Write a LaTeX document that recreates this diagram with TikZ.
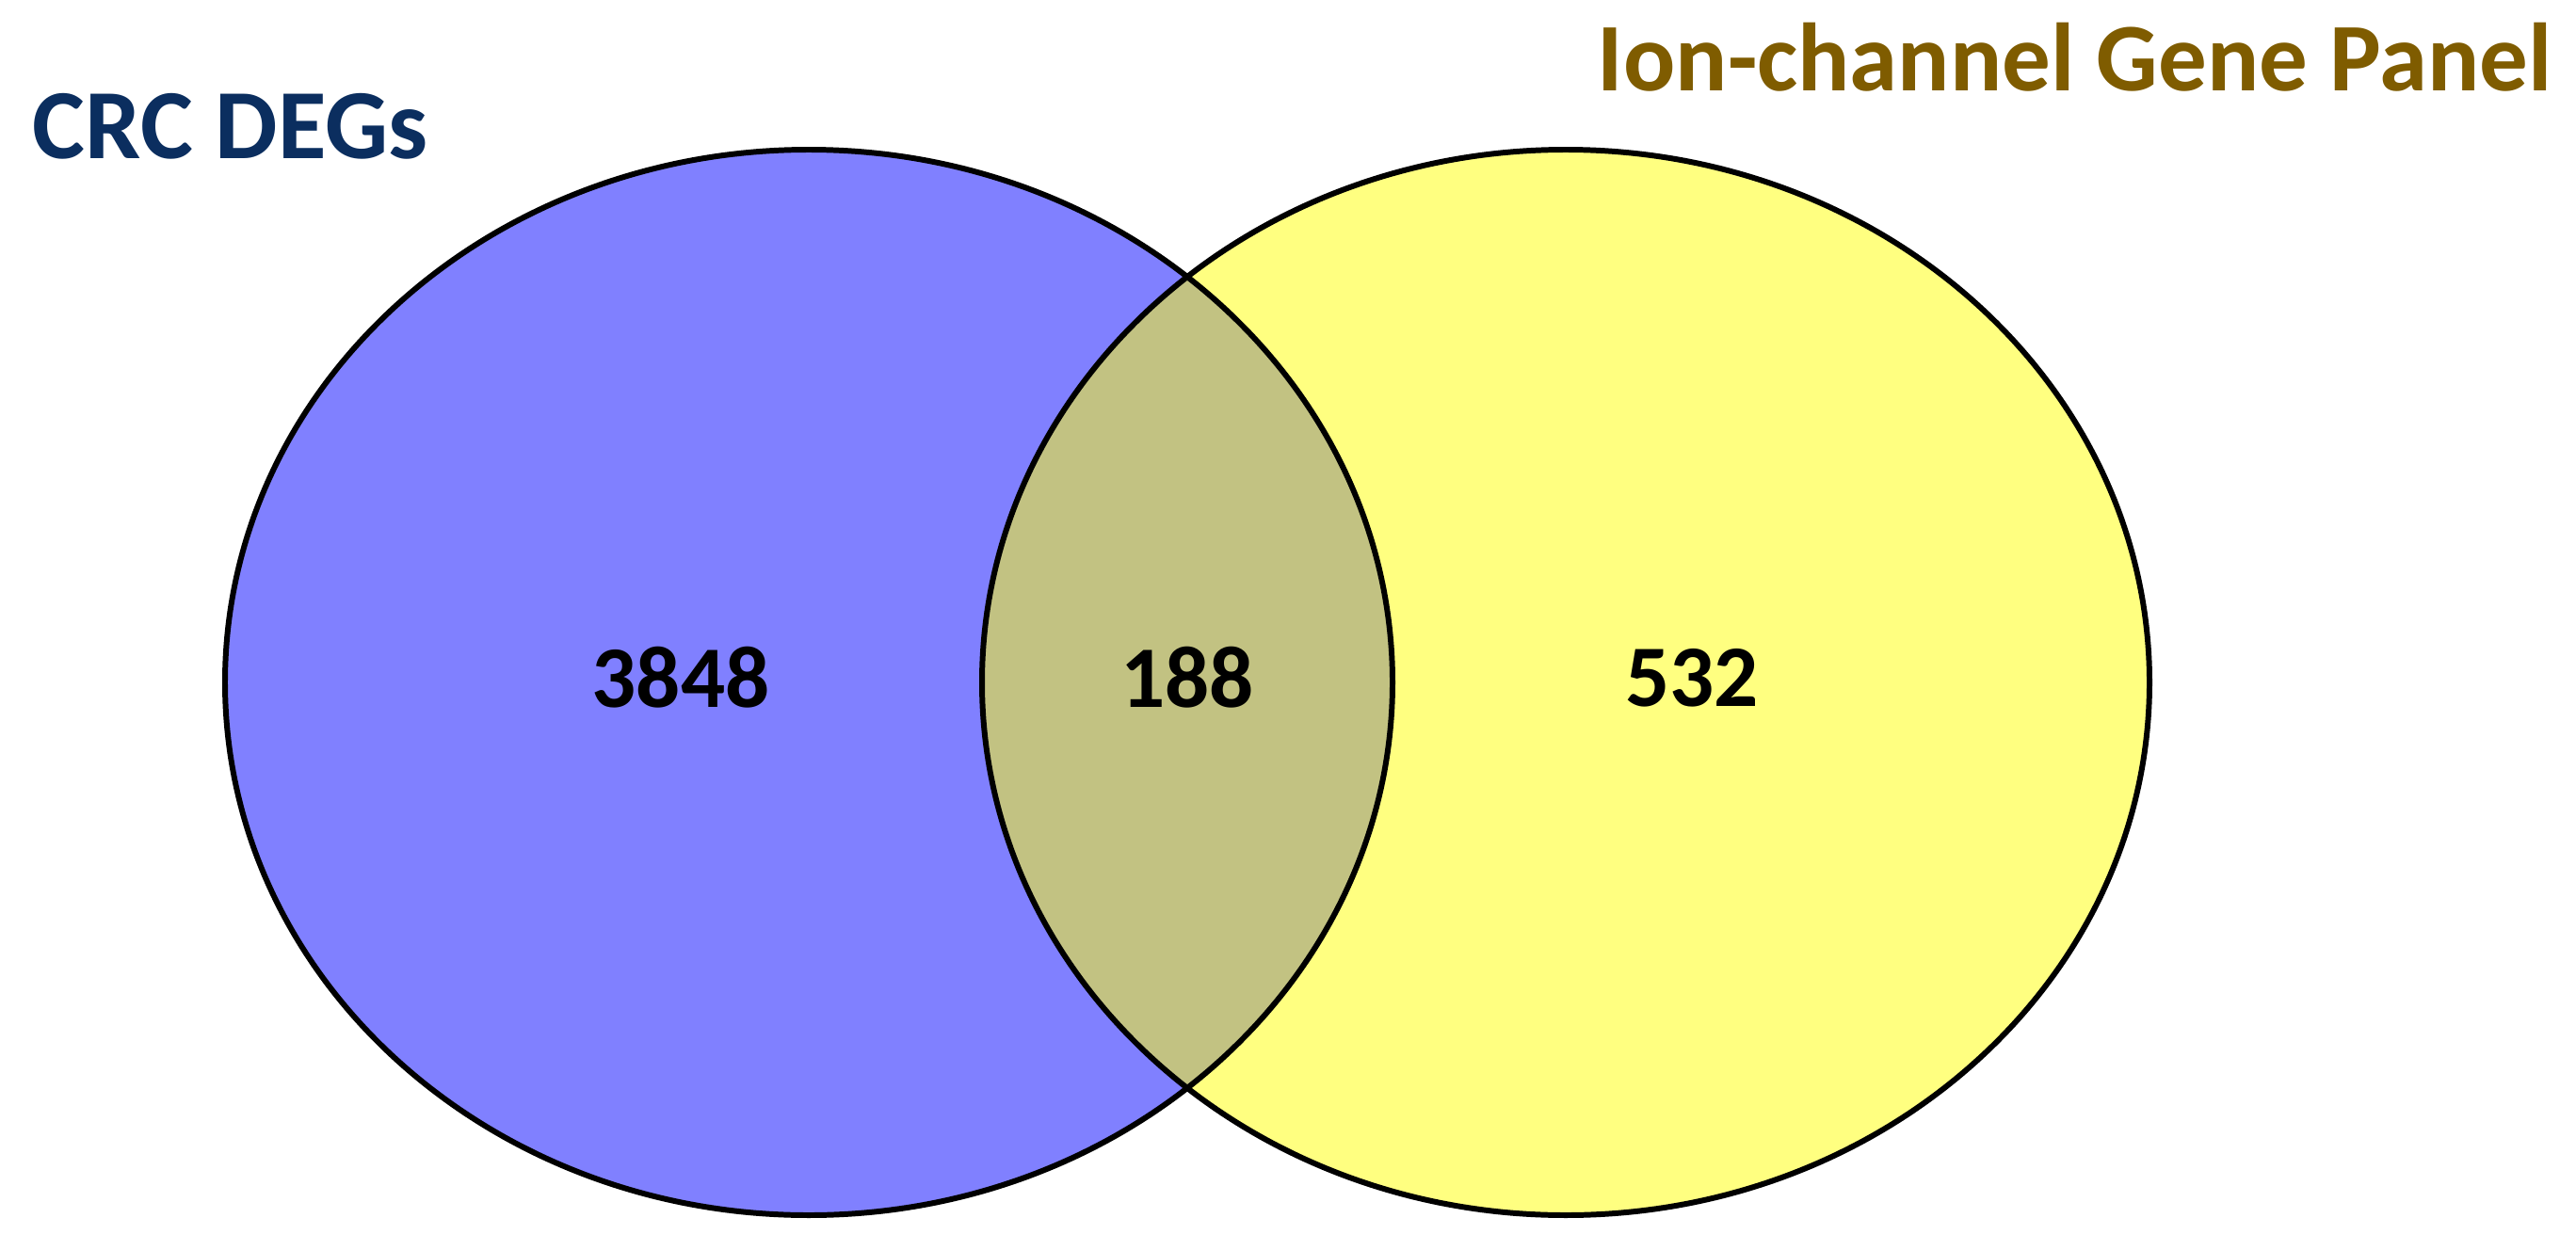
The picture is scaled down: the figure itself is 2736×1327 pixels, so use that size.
\documentclass[tikz,border=0pt]{standalone}
\usepackage{fontspec}
\setmainfont{Carlito}
\definecolor{setA}{HTML}{8080FF}
\definecolor{setB}{HTML}{FFFF80}
\definecolor{setAB}{HTML}{C2C282}
\definecolor{titleA}{HTML}{0B2E5F}
\definecolor{titleB}{HTML}{7F5C00}
\begin{document}
\begin{tikzpicture}[x=0.01cm,y=-0.01cm,
  settitle/.style={inner sep=0pt,anchor=base west},
  count/.style={inner sep=0pt,anchor=center,font=\fontsize{26.5}{30}\selectfont\bfseries,text=black},
  outline/.style={draw=black,line width=1.7pt}]
\useasboundingbox (0,0) rectangle (2736,1327);
\fill[white] (0,0) rectangle (2736,1327);
\fill[setA] (859,725) ellipse [x radius=620, y radius=566];
\fill[setB] (1663,725) ellipse [x radius=620, y radius=566];
\begin{scope}
  \clip (859,725) ellipse [x radius=620, y radius=566];
  \fill[setAB] (1663,725) ellipse [x radius=620, y radius=566];
\end{scope}
\draw[outline] (859,725) ellipse [x radius=620, y radius=566];
\draw[outline] (1663,725) ellipse [x radius=620, y radius=566];
\node[settitle,text=titleA,font=\fontsize{30}{36}\selectfont\bfseries] (tA) at (34,168) {CRC DEGs};
\node[settitle,text=titleB,font=\fontsize{29.3}{35}\selectfont\bfseries] (tB) at (1696,96) {Ion-channel Gene Panel};
\node[count] (nA) at (723,720) {3848};
\node[count] (nAB) at (1261,720) {188};
\node[count] (nB) at (1797,720) {532};
\end{tikzpicture}
\end{document}
